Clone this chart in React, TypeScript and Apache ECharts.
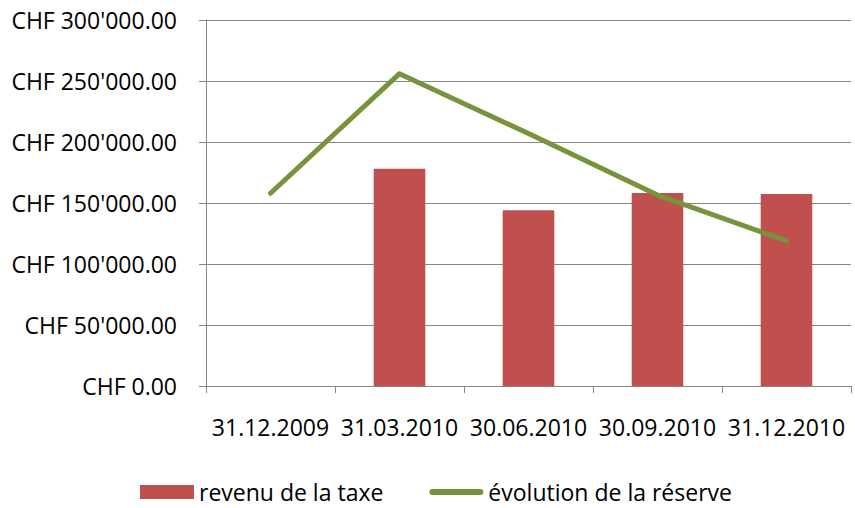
import React, { useEffect, useRef } from "react";
import * as echarts from "echarts";

const categories = ["31.12.2009", "31.03.2010", "30.06.2010", "30.09.2010", "31.12.2010"];
const revenuTaxe: (number | null)[] = [null, 178000, 144000, 158200, 157400];
const evolutionReserve = [158000, 256000, 207000, 156500, 119000];
const yMin = 0;
const yMax = 300000;
const yInterval = 50000;

function fmtCHF(v: number): string {
  const parts = v.toFixed(2).split(".");
  const intPart = parts[0].replace(/\B(?=(\d{3})+(?!\d))/g, "'");
  return "CHF " + intPart + "." + parts[1];
}

export default function App() {
  const ref = useRef<HTMLDivElement>(null);
  useEffect(() => {
    if (!ref.current) return;
    const chart = echarts.init(ref.current, undefined, { renderer: "svg" });
    const font = "'Open Sans', sans-serif";
    const gray = "#868686";
    chart.setOption({
      animation: false,
      backgroundColor: "#ffffff",
      grid: { left: 206, right: 4, top: 20, bottom: 122, containLabel: false },
      legend: {
        left: 140,
        top: 480,
        padding: 0,
        itemWidth: 54,
        itemHeight: 14,
        itemGap: 46,
        textStyle: { fontFamily: font, fontSize: 23, color: "#000000", lineHeight: 24 },
        data: [
          { name: "revenu de la taxe", icon: "rect" },
          {
            name: "évolution de la réserve",
            icon: "path://M3,0h48a3,3 0 0 1 0,6h-48a3,3 0 0 1 0,-6z",
            itemStyle: { color: "#77933C" },
          },
        ],
      },
      xAxis: {
        type: "category",
        data: categories,
        boundaryGap: true,
        axisLine: { show: true, lineStyle: { color: gray, width: 1 } },
        axisTick: { show: true, length: 7, alignWithLabel: false, lineStyle: { color: gray } },
        axisLabel: { margin: 29, fontFamily: font, fontSize: 23, color: "#000000", interval: 0 },
        splitLine: { show: false },
      },
      yAxis: {
        type: "value",
        min: yMin,
        max: yMax,
        interval: yInterval,
        axisLine: { show: true, lineStyle: { color: gray, width: 1 } },
        axisTick: { show: true, length: 7, lineStyle: { color: gray } },
        axisLabel: {
          margin: 29,
          fontFamily: font,
          fontSize: 23,
          color: "#000000",
          formatter: (v: number) => fmtCHF(v),
        },
        splitLine: { show: true, lineStyle: { color: gray, width: 1 } },
      },
      series: [
        {
          name: "revenu de la taxe",
          type: "bar",
          data: revenuTaxe,
          barWidth: "40%",
          itemStyle: { color: "#C0504D" },
        },
        {
          name: "évolution de la réserve",
          type: "line",
          data: evolutionReserve,
          symbol: "none",
          showSymbol: false,
          lineStyle: { color: "#77933C", width: 5, cap: "round", join: "round" },
          itemStyle: { color: "#77933C" },
        },
      ],
    });
    return () => chart.dispose();
  }, []);
  return (
    <div
      ref={ref}
      style={{ position: "fixed", left: 0, top: 0, width: 855, height: 508, background: "#fff" }}
    />
  );
}
